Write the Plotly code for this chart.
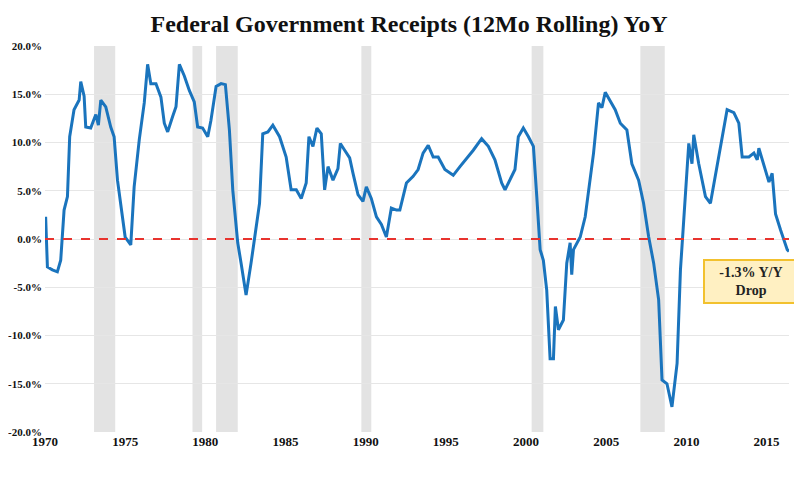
import plotly.graph_objects as go

years = [1970.04, 1970.15, 1970.46, 1970.77, 1970.98, 1971.19, 1971.40, 1971.54, 1971.81, 1972.13,
         1972.23, 1972.44, 1972.54, 1972.85, 1973.17, 1973.33, 1973.48, 1973.79, 1974.10, 1974.31,
         1974.52, 1974.73, 1975.0, 1975.35, 1975.56, 1975.88, 1976.19, 1976.40, 1976.6, 1976.92,
         1977.23, 1977.44, 1977.65, 1977.96, 1978.17, 1978.38, 1978.69, 1979.0, 1979.31, 1979.52,
         1979.83, 1980.15, 1980.35, 1980.67, 1980.98, 1981.25, 1981.5, 1981.71, 1982.02, 1982.23,
         1982.54, 1982.85, 1983.17, 1983.38, 1983.58, 1983.9, 1984.21, 1984.63, 1985.04, 1985.35,
         1985.67, 1985.98, 1986.29, 1986.46, 1986.71, 1986.96, 1987.23, 1987.44, 1987.65, 1987.96,
         1988.27, 1988.42, 1988.69, 1989.0, 1989.21, 1989.52, 1989.83, 1990.04, 1990.35, 1990.67,
         1990.98, 1991.29, 1991.6, 1991.92,
         1992.13, 1992.54, 1992.96, 1993.27, 1993.58, 1993.9, 1994.21, 1994.52, 1994.94, 1995.46,
         1995.88, 1996.4, 1996.71, 1997.23, 1997.65, 1998.06, 1998.48, 1998.69, 1999.0, 1999.31,
         1999.52, 1999.83, 2000.15, 2000.46, 2000.67, 2000.88, 2001.08, 2001.29, 2001.5, 2001.71,
         2001.83, 2002.02, 2002.33, 2002.54, 2002.75, 2002.85, 2002.96, 2003.38, 2003.69, 2003.9,
         2004.21, 2004.52, 2004.73, 2004.94, 2005.25, 2005.56, 2005.88, 2006.29, 2006.6, 2007.02,
         2007.33, 2007.65, 2007.96, 2008.27, 2008.48, 2008.79, 2009.1, 2009.42, 2009.63, 2009.94,
         2010.15, 2010.35, 2010.46, 2010.77, 2011.19, 2011.5, 2011.81, 2012.23, 2012.54, 2012.96,
         2013.27, 2013.48, 2013.9, 2014.21, 2014.42, 2014.52, 2014.83, 2015.15, 2015.35, 2015.56,
         2015.88, 2016.29, 2016.4]
receipts_yoy = [2.3, -2.9, -3.2, -3.4, -2.2, 3.0, 4.4, 10.6, 13.4, 14.4,
                16.3, 14.8, 11.6, 11.5, 12.9, 11.8, 14.4, 13.7, 11.6, 10.6,
                6.1, 3.4, 0.2, -0.6, 5.4, 10.3, 14.1, 18.1, 16.1, 16.1,
                14.7, 12.0, 11.1, 12.7, 13.7, 18.1, 16.9, 15.4, 14.2, 11.6,
                11.5, 10.6, 12.3, 15.8, 16.1, 16.0, 11.3, 5.1, -0.4, -2.5,
                -5.8, -2.5, 1.6, 3.7, 10.9, 11.1, 11.8, 10.6, 8.5, 5.1,
                5.1, 4.2, 5.8, 10.6, 9.6, 11.5, 10.9, 5.1, 7.5, 6.1,
                7.3, 9.9, 9.2, 8.4, 6.8, 4.6, 3.9, 5.4, 4.2, 2.3,
                1.5, 0.2, 3.2, 3.0,
                3.0, 5.8, 6.5, 7.2, 8.9, 9.7, 8.5, 8.5, 7.2, 6.6,
                7.5, 8.5, 9.2, 10.4, 9.6, 8.2, 5.8, 5.1, 6.1, 7.2,
                10.6, 11.5, 10.6, 9.6, 4.4, -1.1, -2.2, -5.3, -12.4, -12.4,
                -7.0, -9.4, -8.4, -2.5, -0.4, -3.7, -1.1, 0.2, 2.3, 5.1,
                8.9, 14.1, 13.6, 15.2, 14.3, 13.4, 12.0, 11.3, 7.8, 6.1,
                3.7, 0.2, -2.5, -6.3, -14.6, -15.0, -17.4, -12.9, -3.2, 4.4,
                9.9, 7.8, 10.8, 7.8, 4.4, 3.7, 6.5, 10.3, 13.4, 13.1,
                12.0, 8.5, 8.5, 8.9, 8.2, 9.4, 7.8, 5.9, 6.8, 2.6,
                0.9, -1.1, -1.3]

recession_start = [1973.06, 1979.2, 1980.67, 1989.73, 2000.35, 2007.13]
recession_end = [1974.38, 1979.8, 1982.02, 1990.35, 2001.08, 2008.65]

tick_years = [1970, 1975, 1980, 1985, 1990, 1995, 2000, 2005, 2010, 2015]
tick_pcts = [-20, -15, -10, -5, 0, 5, 10, 15, 20]

serif = "Liberation Serif"

fig = go.Figure()

for s, e in zip(recession_start, recession_end):
    fig.add_vrect(x0=s, x1=e, fillcolor="#E3E3E3", line_width=0, layer="below")

fig.add_hline(y=0, line=dict(color="#E8332E", width=2, dash="dash"))

fig.add_trace(go.Scatter(x=years, y=receipts_yoy, mode="lines",
                         line=dict(color="#1A74BD", width=3), hoverinfo="skip"))

fig.add_annotation(xref="paper", yref="paper", x=0.949, y=0.389,
                   xanchor="center", yanchor="middle",
                   text="<b>-1.3% Y/Y<br>Drop</b>", showarrow=False,
                   font=dict(family=serif, size=14, color="#222"),
                   bgcolor="#FFF0C2", bordercolor="#F2C12E", borderwidth=2,
                   borderpad=4, width=84)

fig.update_layout(
    width=802, height=481,
    margin=dict(l=37, r=21, t=38, b=57, autoexpand=False),
    paper_bgcolor="white", plot_bgcolor="white",
    showlegend=False,
    title=dict(text="<b>Federal Government Receipts (12Mo Rolling) YoY</b>",
               x=0.5, y=0.985, xanchor="center", yanchor="top",
               font=dict(family=serif, size=24, color="#111")),
    xaxis=dict(range=[1970, 2016.4], tickvals=tick_years,
               ticktext=[f"<b>{y}</b>" for y in tick_years],
               showgrid=False, zeroline=False, ticks="", showline=False,
               tickfont=dict(family=serif, size=13, color="#111")),
    yaxis=dict(range=[-20, 20], tickvals=tick_pcts,
               ticktext=[f"<b>{v:.1f}%</b>" for v in tick_pcts],
               showgrid=True, gridcolor="#E6E6E6", gridwidth=1, zeroline=False,
               ticklabelstandoff=2,
               tickfont=dict(family=serif, size=11, color="#111")),
)

fig.write_html("out.html")
